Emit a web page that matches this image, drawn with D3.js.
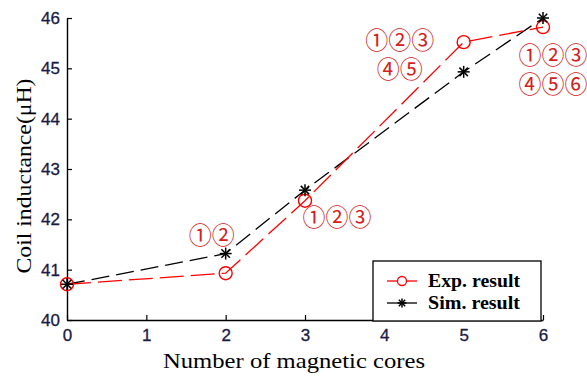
<!DOCTYPE html>
<html>
<head>
<meta charset="utf-8">
<script src="https://cdn.jsdelivr.net/npm/d3@7"></script>
<style>
  body { margin: 0; background: #fff; }
  svg { display: block; }
</style>
</head>
<body>
<svg id="chart" width="587" height="376"></svg>
<script>
// Number of magnetic cores vs coil inductance
const cores = [0, 2, 3, 5, 6];
const expValues = [40.71, 40.93, 42.37, 45.52, 45.82];
const simValues = [40.71, 41.32, 42.58, 44.93, 46.0];
const xTicks = [0, 1, 2, 3, 4, 5, 6];
const yTicks = [40, 41, 42, 43, 44, 45, 46];
const seriesNames = ["Exp. result", "Sim. result"];

// Circled-number notes, placed relative to a data point (offsets to text centre)
const notes = [
  { x: 2, y: 41.32, lines: ["①②"], dx: -14, dy: -20 },
  { x: 3, y: 42.37, lines: ["①②③"], dx: 32, dy: 15 },
  { x: 5, y: 45.52, lines: ["①②③", "④⑤"], dx: -64, dy: -4 },
  { x: 6, y: 46.0, lines: ["①②③", "④⑤⑥"], dx: 10, dy: 35 }
];

const svg = d3.select("#chart");
const m = { left: 67, right: 44, top: 18, bottom: 56 };
const W = 587, H = 376;

const x = d3.scaleLinear().domain([0, 6]).range([m.left, W - m.right]);
const y = d3.scaleLinear().domain([40, 46]).range([H - m.bottom, m.top]);

const tickColor = "#1a1a44";
const serif = "'Times New Roman', 'Liberation Serif', serif";

// Axes: left and bottom only, ticks pointing inward
const xAxis = svg.append("g")
  .attr("transform", `translate(0,${y(40)})`)
  .call(d3.axisBottom(x).tickValues(xTicks).tickFormat(d3.format("d"))
    .tickSizeInner(-5).tickSizeOuter(0).tickPadding(9));
const yAxis = svg.append("g")
  .attr("transform", `translate(${x(0)},0)`)
  .call(d3.axisLeft(y).tickValues(yTicks).tickFormat(d3.format("d"))
    .tickSizeInner(-5).tickSizeOuter(0).tickPadding(7));

[xAxis, yAxis].forEach(g => {
  g.select(".domain").attr("stroke", "#000").attr("stroke-width", 1.4);
  g.selectAll(".tick line").attr("stroke", "#000").attr("stroke-width", 1.2);
  g.selectAll(".tick text")
    .attr("fill", tickColor)
    .attr("stroke", tickColor).attr("stroke-width", 0.3)
    .style("font-family", "Arial, 'Liberation Sans', sans-serif")
    .style("font-size", "17px");
});

// Axis titles
svg.append("text")
  .attr("x", 294).attr("y", 368)
  .attr("text-anchor", "middle")
  .attr("textLength", 262).attr("lengthAdjust", "spacingAndGlyphs")
  .style("font-family", serif)
  .style("font-size", "21px")
  .text("Number of magnetic cores");

svg.append("text")
  .attr("transform", "translate(31,176) rotate(-90)")
  .attr("text-anchor", "middle")
  .attr("textLength", 195).attr("lengthAdjust", "spacingAndGlyphs")
  .style("font-family", serif)
  .style("font-size", "22px")
  .text("Coil inductance(μH)");

const line = d3.line().x(d => x(d[0])).y(d => y(d[1]));
const expPts = cores.map((c, i) => [c, expValues[i]]);
const simPts = cores.map((c, i) => [c, simValues[i]]);

// Simulation series (black dashed, asterisk markers)
svg.append("path").datum(simPts)
  .attr("d", line).attr("fill", "none")
  .attr("stroke", "#000").attr("stroke-width", 1.3)
  .attr("stroke-dasharray", "18,7");

// Experimental series (red dashed, open circles)
svg.append("path").datum(expPts)
  .attr("d", line).attr("fill", "none")
  .attr("stroke", "#f00").attr("stroke-width", 1.3)
  .attr("stroke-dasharray", "24,7");

svg.selectAll("circle.exp").data(expPts).join("circle")
  .attr("class", "exp")
  .attr("cx", d => x(d[0])).attr("cy", d => y(d[1]))
  .attr("r", 6.5).attr("fill", "none")
  .attr("stroke", "#f00").attr("stroke-width", 1.4);

// Asterisk drawn as 4 crossing strokes
function drawStar(g, cx, cy, r) {
  [0, 45, 90, 135].forEach(a => {
    const rad = a * Math.PI / 180;
    g.append("line")
      .attr("x1", cx - r * Math.cos(rad)).attr("y1", cy - r * Math.sin(rad))
      .attr("x2", cx + r * Math.cos(rad)).attr("y2", cy + r * Math.sin(rad))
      .attr("stroke", "#000").attr("stroke-width", 1.5);
  });
}
const starG = svg.append("g");
simPts.forEach(d => drawStar(starG, x(d[0]), y(d[1]), 6));

// Circled-number notes
notes.forEach(n => {
  n.lines.forEach((t, i) => {
    const chars = Array.from(t).length;
    svg.append("text")
      .attr("x", x(n.x) + n.dx)
      .attr("y", y(n.y) + n.dy + i * 29)
      .attr("text-anchor", "middle")
      .attr("dominant-baseline", "central")
      .attr("textLength", chars * 23).attr("lengthAdjust", "spacingAndGlyphs")
      .attr("fill", "#d42020")
      .style("font-family", "'Noto Sans CJK SC', 'Noto Sans CJK JP', serif")
      .style("font-size", "24px")
      .text(t);
  });
});

// Legend
const lg = svg.append("g");
lg.append("rect")
  .attr("x", 373).attr("y", 261).attr("width", 168).attr("height", 60)
  .attr("fill", "#fff").attr("stroke", "#000").attr("stroke-width", 1.3);
const legendColors = ["#f00", "#000"];
seriesNames.forEach((name, i) => {
  const ly = 281 + i * 22;
  lg.append("line")
    .attr("x1", 387).attr("x2", 417).attr("y1", ly).attr("y2", ly)
    .attr("stroke", legendColors[i]).attr("stroke-width", 1.3);
  if (i === 0) {
    lg.append("circle").attr("cx", 402).attr("cy", ly).attr("r", 4.5)
      .attr("fill", "#fff").attr("stroke", "#f00").attr("stroke-width", 1.3);
  } else {
    drawStar(lg, 402, ly, 4.5);
  }
  lg.append("text")
    .attr("x", 428).attr("y", ly + 6)
    .attr("textLength", 92).attr("lengthAdjust", "spacingAndGlyphs")
    .style("font-family", serif)
    .style("font-weight", "bold")
    .style("font-size", "19px")
    .text(name);
});
</script>
</body>
</html>
